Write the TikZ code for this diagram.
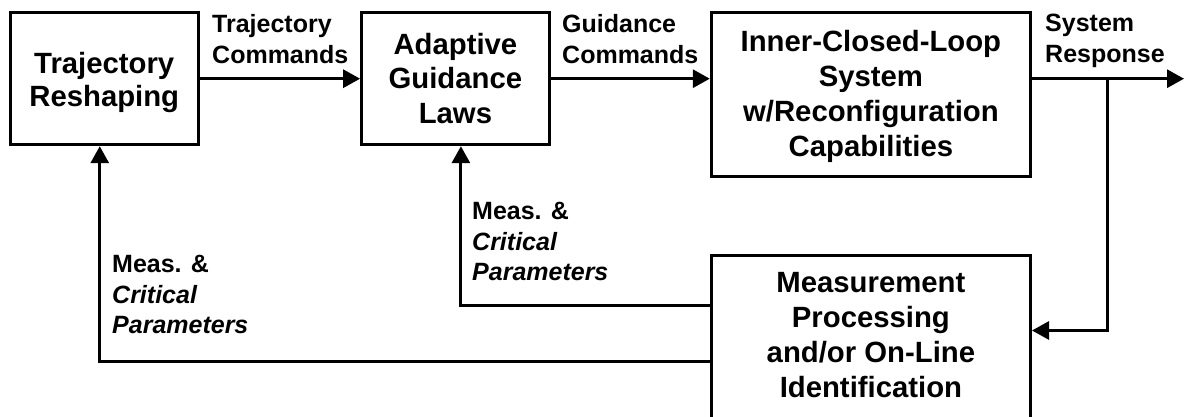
\documentclass[tikz,border=0pt]{standalone}
\usepackage{fontspec}
\setmainfont{Liberation Sans}
\usetikzlibrary{arrows.meta,calc}
\begin{document}
\begin{tikzpicture}[x=1pt,y=-1pt,
  blk/.style={draw, line width=3pt, rectangle, inner sep=0pt},
  boxtext/.style={inner sep=0pt, align=center},
  lbl/.style={inner sep=0pt, anchor=north west, align=left,
    font=\fontsize{25}{31}\selectfont\bfseries},
  flow/.style={line width=3pt, -{Triangle[length=17pt,width=18pt]}},
  wire/.style={line width=3pt}]
\useasboundingbox (0,0) rectangle (1188,417);
\clip (0,0) rectangle (1188,417);

% blocks
\node[blk, minimum width=188pt, minimum height=132pt] (traj) at (104.25,78.7) {};
\node[blk, minimum width=187.6pt, minimum height=132pt] (adapt) at (455.4,78.7) {};
\node[blk, minimum width=319.2pt, minimum height=164pt] (inner) at (870.9,94.7) {};
\node[blk, minimum width=319.2pt, minimum height=185pt] (meas) at (870.9,347.5) {};

% block texts
\node[boxtext, font=\fontsize{29.3}{33}\selectfont\bfseries] (trajtxt) at (104.25,82.3) {Trajectory\\Reshaping};
\node[boxtext, font=\fontsize{29.3}{34.5}\selectfont\bfseries] (adapttxt) at (455.4,78.3) {Adaptive\\Guidance\\Laws};
\node[boxtext, font=\fontsize{29.3}{35}\selectfont\bfseries] (innertxt) at (870.9,96) {Inner-Closed-Loop\\System\\w/Reconfiguration\\Capabilities};
\node[boxtext, font=\fontsize{29.3}{35}\selectfont\bfseries] (meastxt) at (870.9,335.3) {Measurement\\Processing\\and/or On-Line\\Identification};

% signal labels
\node[lbl] (tclbl) at (212,14.1) {Trajectory\\Commands};
\node[lbl] (gclbl) at (562,14.1) {Guidance\\Commands};
\node[lbl] (srlbl) at (1045,14.1) {System\\Response};
\node[lbl, font=\fontsize{25}{30.5}\selectfont\bfseries] (mpupper) at (472,202.1) {Meas. \&\\\textit{Critical}\\\textit{Parameters}};
\node[lbl, font=\fontsize{25}{30.5}\selectfont\bfseries] (mplower) at (112,255.1) {Meas. \&\\\textit{Critical}\\\textit{Parameters}};

% forward path
\coordinate (tap) at (1107,78.7);
\coordinate (outend) at (1184,78.7);
\draw[flow] (traj.east) -- (adapt.west);
\draw[flow] (adapt.east) -- (adapt.east -| inner.west);
\draw[flow] (inner.east |- adapt.east) -- (outend);

% feedback paths
\draw[flow] (tap) |- ([yshift=-77pt]meas.north east);
\draw[flow] ([yshift=-52pt]meas.north west) -| ([xshift=5.5pt]adapt.south);
\draw[flow] ([yshift=-108pt]meas.north west) -| ([xshift=-4.5pt]traj.south);
\end{tikzpicture}
\end{document}
